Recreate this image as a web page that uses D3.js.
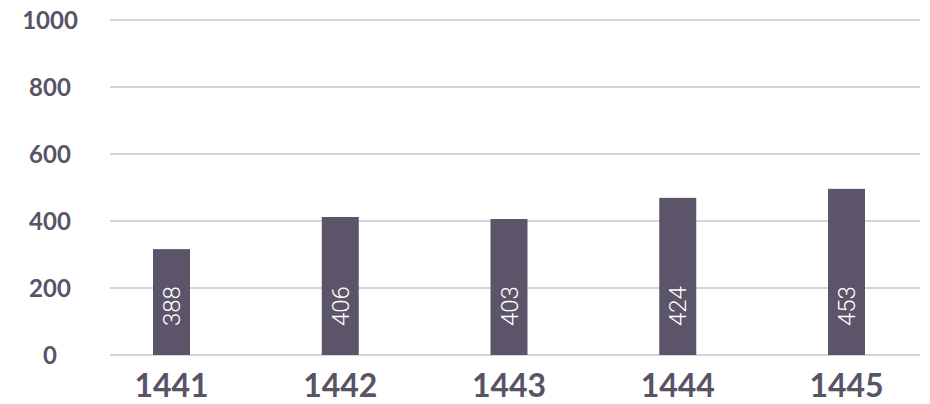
<!DOCTYPE html>
<html>
<head>
<meta charset="utf-8">
<script src="https://cdn.jsdelivr.net/npm/d3@7"></script>
<style>
  html, body { margin: 0; padding: 0; background: #fff; }
</style>
</head>
<body>
<div id="chart"></div>
<script>
const width = 930;
const height = 404;

// data
const years = ['1441', '1442', '1443', '1444', '1445'];
const barValues = [316, 412, 406, 469, 496];   // drawn heights
const barLabels = ['388', '406', '403', '424', '453']; // printed labels
const yTicks = [0, 200, 400, 600, 800, 1000];

const ink = '#595366';
const barColor = '#5c5469';

const svg = d3.select('#chart')
  .append('svg')
    .attr('width', width)
    .attr('height', height);

const x = d3.scalePoint()
  .domain(years)
  .range([171.5, 846.5]);

const y = d3.scaleLinear()
  .domain([0, 1000])
  .range([355, 20]);

const barW = 37;

// grid lines
svg.append('g')
  .selectAll('line')
  .data(yTicks)
  .enter()
  .append('line')
    .attr('x1', 110)
    .attr('x2', 920)
    .attr('y1', d => y(d))
    .attr('y2', d => y(d))
    .attr('stroke', '#c8c5ce')
    .attr('stroke-width', 1.5);

// y labels
svg.append('g')
  .selectAll('text')
  .data(yTicks)
  .enter()
  .append('text')
    .attr('x', 50)
    .attr('y', d => y(d))
    .attr('dy', '0.36em')
    .attr('text-anchor', 'middle')
    .attr('font-family', 'Lato, sans-serif')
    .attr('font-weight', 'bold')
    .attr('font-size', 24)
    .attr('fill', ink)
    .text(d => d);

const rows = years.map((yr, i) => ({yr, v: barValues[i], label: barLabels[i]}));

// bars
svg.append('g')
  .selectAll('rect')
  .data(rows)
  .enter()
  .append('rect')
    .attr('x', d => x(d.yr) - barW / 2)
    .attr('y', d => y(d.v))
    .attr('width', barW)
    .attr('height', d => y(0) - y(d.v))
    .attr('fill', barColor);

// rotated value labels inside bars
svg.append('g')
  .selectAll('text')
  .data(rows)
  .enter()
  .append('text')
    .attr('transform', d => `translate(${x(d.yr)},${y(146)}) rotate(-90)`)
    .attr('text-anchor', 'middle')
    .attr('dy', '0.36em')
    .attr('font-family', 'Roboto, sans-serif')
    .attr('font-weight', 300)
    .attr('font-size', 24)
    .attr('fill', '#fff')
    .text(d => d.label);

// x labels
svg.append('g')
  .selectAll('text')
  .data(years)
  .enter()
  .append('text')
    .attr('x', d => x(d))
    .attr('y', 397)
    .attr('text-anchor', 'middle')
    .attr('font-family', 'Lato, sans-serif')
    .attr('font-weight', 'bold')
    .attr('font-size', 32)
    .attr('fill', ink)
    .text(d => d);
</script>
</body>
</html>
